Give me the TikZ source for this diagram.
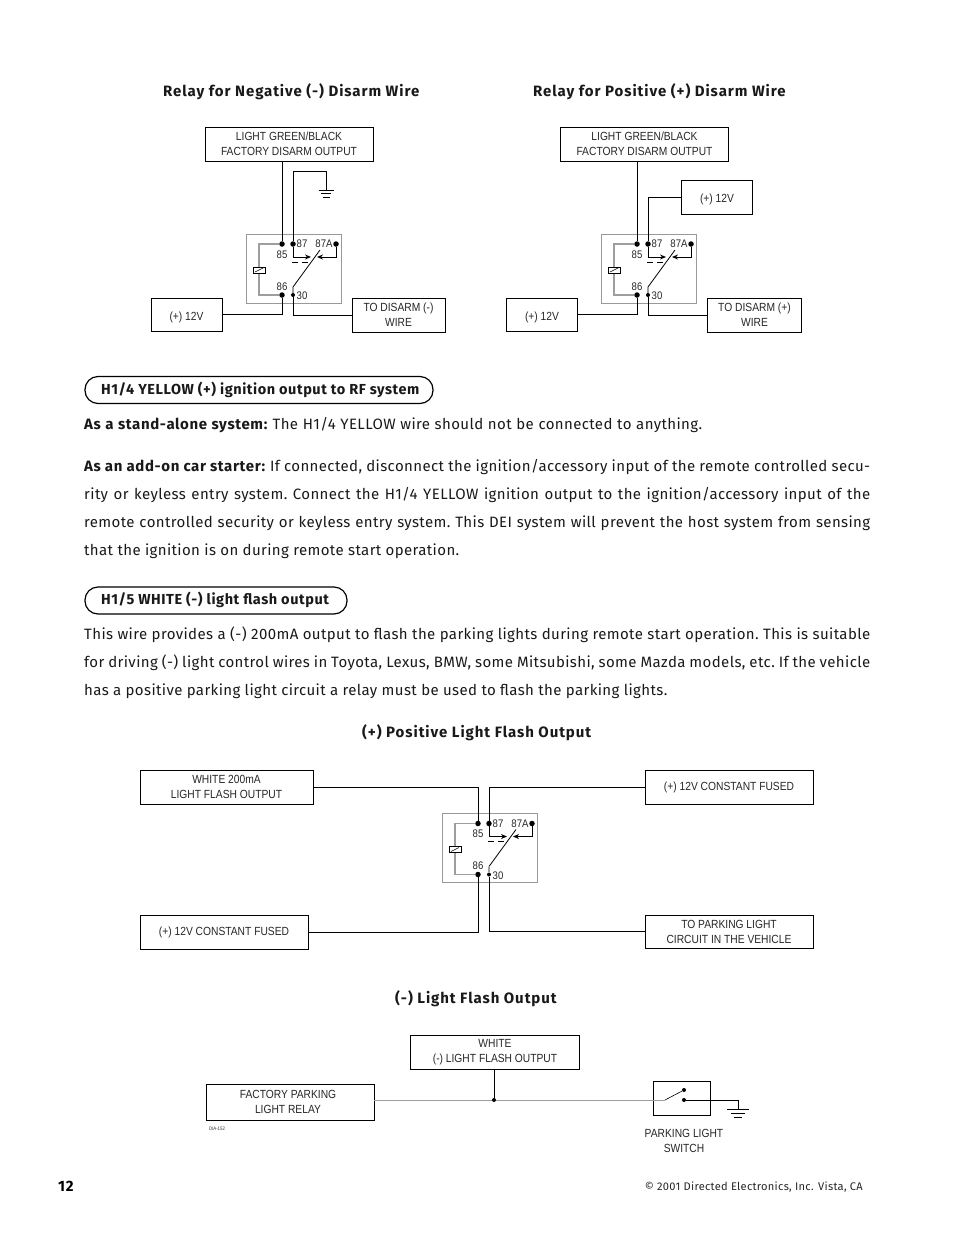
\documentclass[tikz,border=0pt]{standalone}
\usepackage{fontspec}
\setmainfont{Fira Sans}[LetterSpace=2.6,BoldFeatures={LetterSpace=4.2}]
\newfontfamily\headfam{Fira Sans}[LetterSpace=6.2,BoldFeatures={LetterSpace=6.2}]
\newfontfamily\pillfam{Fira Sans}[LetterSpace=3.9,BoldFeatures={LetterSpace=3.9}]
\newfontfamily\diag{Liberation Sans}[FakeStretch=0.87]
\usetikzlibrary{arrows.meta,calc}
\definecolor{wiregray}{gray}{0.62}
\definecolor{boxgray}{gray}{0.6}
\newcommand{\headfont}{\headfam\bfseries\fontsize{15}{18}\selectfont}
\newcommand{\pillfont}{\pillfam\bfseries\fontsize{14.5}{18}\selectfont}
\tikzset{
  x=1pt,y=-1pt,
  wire/.style={draw=black,line width=0.95pt},
  graywire/.style={draw=wiregray,line width=1.15pt},
  label box/.style={draw=black,line width=0.8pt,inner sep=0pt,align=center,font=\diag\fontsize{11.8}{15}\selectfont,text=black!85},
  term/.style={font=\diag\fontsize{11}{12}\selectfont,inner sep=0pt,text=black!85},
  bodyline/.style={anchor=west,inner sep=0pt,font=\fontsize{15}{18}\selectfont\frenchspacing,text=black!90},
  head/.style={anchor=west,inner sep=0pt,font=\headfont,text=black!90},
  pill text/.style={anchor=west,inner sep=0pt,font=\pillfont,text=black!90},
  pill/.style={draw=black,line width=1.2pt,rounded corners=13pt,inner sep=0pt},
  dot/.style={circle,fill=black,inner sep=0pt,minimum size=5.5pt},
  smalldot/.style={circle,fill=black,inner sep=0pt,minimum size=4pt},
  relay/.pic={
    \draw[boxgray,line width=1pt] (-0.5,0) rectangle (94,69);
    \node[dot] (-85) at (35,10) {};
    \node[dot] (-87) at (46,10) {};
    \node[dot] (-87A) at (89,10) {};
    \node[dot] (-86) at (35,61) {};
    \node[smalldot] (-30) at (46,61) {};
    \node[term] at (35,20.5) {85};
    \node[term] at (35,52.5) {86};
    \node[term] at (55,10) {87};
    \node[term] at (77,10) {87A};
    \node[term] at (55,62) {30};
    \draw[graywire] (-85) -- (12,10) -- (12,33);
    \draw[graywire] (12,39) -- (12,61) -- (-86);
    \draw[black,line width=0.8pt,fill=white] (6,33) rectangle (18,39);
    \draw[black,line width=0.5pt] (8,38) -- (16,34);
    \draw[wire,-{Stealth[length=6pt,width=5pt]}] (-87) -- (46,23) -- (64,23);
    \draw[wire,-{Stealth[length=6pt,width=5pt]}] (-87A) -- (89,23) -- (70,23);
    \draw[black,line width=0.9pt,dash pattern=on 6pt off 4pt] (45,28) -- (61,28);
    \draw[black,line width=0.8pt] (46,53) -- (73,16);
    \draw[graywire] (46,53) -- (-30);
  },
}
\begin{document}
\begin{tikzpicture}
\useasboundingbox (0,0) rectangle (954,1235);
% Headings
\node[head] (h1) at (163,92) {Relay for Negative (-) Disarm Wire};
\node[head] (h2) at (533,92) {Relay for Positive (+) Disarm Wire};

% Relay 1
\pic (ra) at (247,234) {relay};
\node[label box,minimum width=168pt,minimum height=34pt] (ra-top) at (289,144) {LIGHT GREEN/BLACK\\FACTORY DISARM OUTPUT};
\node[label box,minimum width=71pt,minimum height=33pt] (ra-12) at (186.5,314.5) {\raisebox{-5.5pt}[5pt][5pt]{(+) 12V}};
\node[label box,minimum width=93pt,minimum height=34pt] (ra-dis) at (398.5,315) {TO DISARM (-)\\WIRE};
\coordinate (ra-g) at (326,190);
\draw[wire] (ra-85) -- (ra-85 |- ra-top.south);
\draw[wire] (ra-87) -- (293,171) -- (326,171) -- (ra-g);
\draw[wire] ($(ra-g)+(-7.5,0)$) -- ($(ra-g)+(7.5,0)$);
\draw[wire] ($(ra-g)+(-5,3.5)$) -- ($(ra-g)+(5,3.5)$);
\draw[wire] ($(ra-g)+(-3.5,7)$) -- ($(ra-g)+(3.5,7)$);
\draw[wire] (ra-86) -- (ra-86 |- ra-12.east) -- (ra-12.east);
\draw[wire] (ra-30) -- (ra-30 |- ra-dis.west) -- (ra-dis.west);

% Relay 2
\pic (rb) at (602,234) {relay};
\node[label box,minimum width=168pt,minimum height=34pt] (rb-top) at (644.5,144) {LIGHT GREEN/BLACK\\FACTORY DISARM OUTPUT};
\node[label box,minimum width=71pt,minimum height=34pt] (rb-v) at (717,197.5) {\raisebox{-4.5pt}[5pt][5pt]{(+) 12V}};
\node[label box,minimum width=71pt,minimum height=33pt] (rb-12) at (542,314.5) {\raisebox{-5.5pt}[5pt][5pt]{(+) 12V}};
\node[label box,minimum width=94pt,minimum height=34pt] (rb-dis) at (754.5,315) {TO DISARM (+)\\WIRE};
\draw[wire] (rb-85) -- (rb-85 |- rb-top.south);
\draw[wire] (rb-87) -- (rb-87 |- rb-v.west) -- (rb-v.west);
\draw[wire] (rb-86) -- (rb-86 |- rb-12.east) -- (rb-12.east);
\draw[wire] (rb-30) -- (rb-30 |- rb-dis.west) -- (rb-dis.west);

% Section pills
\node[pill,minimum width=348pt,minimum height=27pt] (p1) at (259,390) {};
\node[pill text] (p1t) at (101,390) {H1/4 YELLOW (+) ignition output to RF system};
\node[pill,minimum width=262pt,minimum height=27pt] (p2) at (216,600.5) {};
\node[pill text] (p2t) at (101,600) {H1/5 WHITE (-) light flash output};

% Body
\node[bodyline] (l1) at (84,425) {\hbox to 618pt{\textbf{As a stand-alone system:} The H1/4 YELLOW wire should not be connected to anything.}};
\node[bodyline] (l2) at (84,467) {\hbox to 786pt{\textbf{As an add-on car starter:} If connected, disconnect the ignition/accessory input of the remote controlled secu-}};
\node[bodyline] (l3) at (84,495) {\hbox to 786pt{rity or keyless entry system. Connect the H1/4 YELLOW ignition output to the ignition/accessory input of the}};
\node[bodyline] (l4) at (84,523) {\hbox to 786pt{remote controlled security or keyless entry system. This DEI system will prevent the host system from sensing}};
\node[bodyline] (l5) at (84,551) {that the ignition is on during remote start operation.};
\node[bodyline] (l6) at (84,635) {\hbox to 786pt{This wire provides a (-) 200mA output to flash the parking lights during remote start operation. This is suitable}};
\node[bodyline] (l7) at (84,663) {\hbox to 786pt{for driving (-) light control wires in Toyota, Lexus, BMW, some Mitsubishi, some Mazda models, etc. If the vehicle}};
\node[bodyline] (l8) at (84,691) {has a positive parking light circuit a relay must be used to flash the parking lights.};

\node[head] (h3) at (362,733) {(+) Positive Light Flash Output};

% Relay 3
\pic (rc) at (443,813.5) {relay};
\node[label box,minimum width=173pt,minimum height=34pt] (rc-w) at (226.5,787) {WHITE 200mA\\LIGHT FLASH OUTPUT};
\node[label box,minimum width=168pt,minimum height=34pt] (rc-c) at (729,787) {(+) 12V CONSTANT FUSED};
\node[label box,minimum width=168pt,minimum height=34pt] (rc-f) at (224,932) {(+) 12V CONSTANT FUSED};
\node[label box,minimum width=168pt,minimum height=33pt] (rc-p) at (729,931.5) {TO PARKING LIGHT\\CIRCUIT IN THE VEHICLE};
\draw[wire] (rc-85) -- (rc-85 |- rc-w.east) -- (rc-w.east);
\draw[wire] (rc-87) -- (rc-87 |- rc-c.west) -- (rc-c.west);
\draw[wire] (rc-86) -- (rc-86 |- rc-f.east) -- (rc-f.east);
\draw[wire] (rc-30) -- (rc-30 |- rc-p.west) -- (rc-p.west);

\node[head] (h4) at (395,999) {(-) Light Flash Output};

% Bottom circuit
\node[label box,minimum width=169pt,minimum height=34pt] (white) at (495,1052.5) {WHITE\\(-) LIGHT FLASH OUTPUT};
\node[label box,minimum width=168pt,minimum height=36pt] (fac) at (290,1102) {\hspace*{-4pt}FACTORY PARKING\\\hspace*{-4pt}LIGHT RELAY};
\node[draw=black,line width=0.8pt,minimum width=57pt,minimum height=34pt,inner sep=0pt] (sw) at (681.5,1098) {};
\node[smalldot] (j) at (494,1100) {};
\node[smalldot] (s1) at (684,1090) {};
\node[smalldot] (s2) at (684,1100) {};
\coordinate (s0) at (665,1100);
\coordinate (g2) at (738,1109);
\draw[wiregray,line width=1pt] (fac.east |- j) -- (j) -- (s0);
\draw[wire] (white.south -| j) -- (j);
\draw[black,line width=0.6pt] (s0) -- (s1);
\draw[wire] (s2) -- (738,1100) -- (g2);
\draw[wire] ($(g2)+(-11,0)$) -- ($(g2)+(11,0)$);
\draw[wire] ($(g2)+(-7,4)$) -- ($(g2)+(7,4)$);
\draw[wire] ($(g2)+(-4,8)$) -- ($(g2)+(4,8)$);
\node[inner sep=0pt,font=\diag\fontsize{5}{6}\selectfont,text=black!80] (dia) at (217,1129) {DIA-152};
\node[inner sep=0pt,align=center,font=\diag\fontsize{11.8}{15}\selectfont,text=black!85] (swl) at (684,1140.5) {PARKING LIGHT\\SWITCH};

% Footer
\node[inner sep=0pt,anchor=west,font=\bfseries\fontsize{15}{16}\selectfont] (pg) at (58,1186) {12};
\node[inner sep=0pt,anchor=east,font=\fontsize{11.1}{13}\selectfont,text=black!85] (cr) at (863,1187.5) {© 2001 Directed Electronics, Inc. Vista, CA};
\end{tikzpicture}
\end{document}
